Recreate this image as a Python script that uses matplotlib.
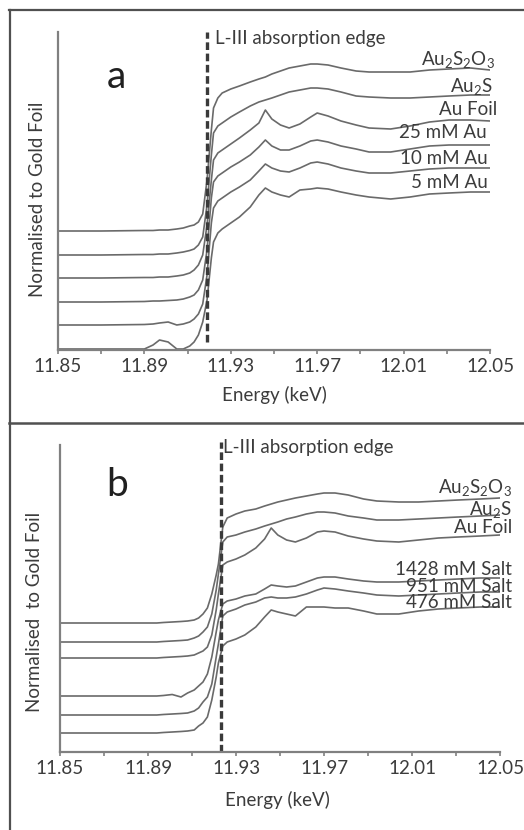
import matplotlib
matplotlib.use("Agg")
import matplotlib.pyplot as plt
from matplotlib.lines import Line2D

plt.rcParams['font.family'] = ['Lato', 'DejaVu Sans']
plt.rcParams['mathtext.fontset'] = 'custom'
plt.rcParams['mathtext.rm'] = 'Lato'
plt.rcParams['mathtext.it'] = 'Lato:italic'
plt.rcParams['mathtext.bf'] = 'Lato:bold'
plt.rcParams['lines.scale_dashes'] = False

# ---------------- data ----------------
energy = [11.850, 11.870, 11.890, 11.894, 11.897, 11.901, 11.905, 11.908, 11.911, 11.913,
          11.915, 11.917, 11.919, 11.921, 11.922, 11.924, 11.926, 11.930, 11.934, 11.939,
          11.943, 11.946, 11.949, 11.953, 11.957, 11.962, 11.967, 11.970, 11.975, 11.981,
          11.988, 11.994, 12.004, 12.013, 12.022, 12.031, 12.041, 12.050]

# panel a (stacked spectra, arbitrary units)
a_au2s2o3 = [1.19, 1.19, 1.195, 1.195, 1.20, 1.20, 1.21, 1.22, 1.24, 1.25,
             1.28, 1.36, 1.70, 2.20, 2.42, 2.52, 2.57, 2.61, 2.64, 2.68,
             2.71, 2.73, 2.76, 2.79, 2.82, 2.84, 2.86, 2.86, 2.85, 2.82,
             2.79, 2.78, 2.78, 2.78, 2.80, 2.81, 2.82, 2.80]
a_au2s = [0.95, 0.95, 0.955, 0.955, 0.96, 0.96, 0.97, 0.98, 0.995, 1.01,
          1.05, 1.13, 1.45, 1.95, 2.17, 2.24, 2.27, 2.33, 2.38, 2.44,
          2.48, 2.50, 2.52, 2.55, 2.58, 2.60, 2.62, 2.62, 2.61, 2.58,
          2.54, 2.53, 2.52, 2.52, 2.53, 2.54, 2.55, 2.55]
a_foil = [0.72, 0.72, 0.725, 0.725, 0.73, 0.73, 0.74, 0.75, 0.77, 0.80,
          0.85, 0.95, 1.25, 1.70, 1.90, 1.97, 2.00, 2.06, 2.12, 2.20,
          2.27, 2.40, 2.31, 2.25, 2.22, 2.26, 2.33, 2.37, 2.34, 2.29,
          2.25, 2.22, 2.21, 2.24, 2.28, 2.30, 2.30, 2.29]
a_25mM = [0.48, 0.48, 0.485, 0.49, 0.49, 0.495, 0.50, 0.51, 0.53, 0.55,
          0.60, 0.70, 1.00, 1.52, 1.68, 1.74, 1.77, 1.83, 1.88, 1.95,
          2.03, 2.10, 2.04, 2.00, 2.00, 2.04, 2.09, 2.10, 2.08, 2.04,
          2.01, 1.98, 1.98, 2.01, 2.04, 2.05, 2.05, 2.05]
a_10mM = [0.25, 0.25, 0.255, 0.26, 0.27, 0.28, 0.25, 0.26, 0.28, 0.31,
          0.36, 0.46, 0.75, 1.27, 1.42, 1.49, 1.52, 1.58, 1.63, 1.70,
          1.79, 1.86, 1.82, 1.79, 1.78, 1.82, 1.87, 1.88, 1.86, 1.82,
          1.79, 1.77, 1.77, 1.79, 1.81, 1.82, 1.82, 1.82]
a_5mM = [0.01, 0.01, 0.01, 0.05, 0.10, 0.08, 0.01, 0.01, 0.04, 0.08,
         0.15, 0.28, 0.50, 0.92, 1.08, 1.17, 1.21, 1.27, 1.33, 1.43,
         1.55, 1.62, 1.58, 1.55, 1.53, 1.60, 1.61, 1.62, 1.61, 1.58,
         1.55, 1.53, 1.51, 1.53, 1.56, 1.57, 1.58, 1.58]

# panel b
b_au2s2o3 = [1.29, 1.29, 1.29, 1.29, 1.295, 1.30, 1.305, 1.31, 1.32, 1.34,
             1.38, 1.44, 1.58, 1.77, 1.88, 2.25, 2.34, 2.38, 2.41, 2.43,
             2.46, 2.48, 2.50, 2.52, 2.54, 2.56, 2.58, 2.59, 2.59, 2.57,
             2.53, 2.51, 2.50, 2.50, 2.51, 2.52, 2.53, 2.54]
b_au2s = [1.10, 1.10, 1.10, 1.10, 1.105, 1.11, 1.115, 1.12, 1.14, 1.16,
          1.20, 1.25, 1.38, 1.62, 1.78, 2.10, 2.15, 2.17, 2.20, 2.23,
          2.26, 2.28, 2.30, 2.33, 2.35, 2.38, 2.40, 2.40, 2.39, 2.36,
          2.34, 2.32, 2.32, 2.33, 2.34, 2.35, 2.36, 2.37]
b_foil = [0.94, 0.94, 0.94, 0.94, 0.945, 0.95, 0.955, 0.96, 0.97, 0.99,
          1.01, 1.05, 1.17, 1.42, 1.58, 1.87, 1.90, 1.93, 1.97, 2.04,
          2.13, 2.24, 2.17, 2.12, 2.10, 2.14, 2.20, 2.21, 2.20, 2.16,
          2.13, 2.11, 2.10, 2.12, 2.14, 2.15, 2.16, 2.17]
b_1428 = [0.56, 0.56, 0.56, 0.56, 0.565, 0.575, 0.55, 0.59, 0.62, 0.66,
          0.70, 0.78, 0.95, 1.20, 1.32, 1.48, 1.51, 1.53, 1.56, 1.58,
          1.63, 1.67, 1.66, 1.65, 1.66, 1.70, 1.74, 1.75, 1.75, 1.73,
          1.71, 1.70, 1.70, 1.71, 1.72, 1.73, 1.74, 1.74]
b_951 = [0.37, 0.37, 0.37, 0.37, 0.375, 0.38, 0.385, 0.39, 0.41, 0.44,
         0.50, 0.55, 0.68, 0.95, 1.08, 1.36, 1.40, 1.43, 1.47, 1.50,
         1.54, 1.55, 1.54, 1.54, 1.55, 1.58, 1.62, 1.64, 1.63, 1.61,
         1.59, 1.57, 1.56, 1.57, 1.58, 1.59, 1.60, 1.60]
b_476 = [0.19, 0.19, 0.19, 0.19, 0.195, 0.20, 0.205, 0.21, 0.22, 0.26,
         0.29, 0.35, 0.52, 0.75, 0.89, 1.06, 1.10, 1.13, 1.17, 1.25,
         1.35, 1.42, 1.40, 1.38, 1.36, 1.45, 1.45, 1.45, 1.44, 1.44,
         1.41, 1.38, 1.38, 1.41, 1.43, 1.44, 1.45, 1.45]

labels_a = [r'$\mathrm{Au_2S_2O_3}$', r'$\mathrm{Au_2S}$', 'Au Foil',
            '25 mM Au', '10 mM Au', '5 mM Au']
labels_b = [r'$\mathrm{Au_2S_2O_3}$', r'$\mathrm{Au_2S}$', 'Au Foil',
            '1428 mM Salt', '951 mM Salt', '476 mM Salt']
series_a = [a_au2s2o3, a_au2s, a_foil, a_25mM, a_10mM, a_5mM]
series_b = [b_au2s2o3, b_au2s, b_foil, b_1428, b_951, b_476]
edge_a = 11.919
edge_b = 11.923
xticks_major = [11.85, 11.89, 11.93, 11.97, 12.01, 12.05]
xticks_minor = [11.87, 11.91, 11.95, 11.99, 12.03]

# ---------------- layout ----------------
W, H = 524, 830
fig = plt.figure(figsize=(W / 100, H / 100), dpi=100)

def px_axes(x0, x1, ytop, ybot):
    return fig.add_axes([x0 / W, 1 - ybot / H, (x1 - x0) / W, (ybot - ytop) / H])

TXT = '#3c3c3c'
CURVE = '#6a6a6a'
AXC = '#808080'
FS = 13.5

def setup(ax, ymax):
    ax.set_xlim(11.85, 12.05)
    ax.set_ylim(0, ymax)
    for s in ('top', 'right'):
        ax.spines[s].set_visible(False)
    for s in ('left', 'bottom'):
        ax.spines[s].set_color(AXC)
        ax.spines[s].set_linewidth(1.6)
    ax.set_yticks([])
    ax.set_xticks(xticks_major)
    ax.set_xticklabels([f'{v:.2f}' for v in xticks_major])
    ax.set_xticks(xticks_minor, minor=True)
    ax.tick_params(axis='x', which='both', direction='out', length=3, width=1.2,
                   color=AXC, labelsize=FS, labelcolor=TXT, pad=2.5)
    ax.patch.set_alpha(0)

# panel a
axa = px_axes(58, 490, 32, 350)
setup(axa, 3.18)
for y in series_a:
    axa.plot(energy, y, color=CURVE, lw=1.2, solid_joinstyle='round')
axa.plot([edge_a, edge_a], [0.08, 3.18], color='#3a3a3a', lw=2.4,
         linestyle=(0, (5.5, 2.6)), clip_on=False)
axa.text(11.9227, 3.12, 'L-III absorption edge', fontsize=FS, color=TXT,
         ha='left', va='center')
la_x = [12.0523, 12.0514, 12.0532, 12.0486, 12.049, 12.049]
la_y = [2.85, 2.58, 2.35, 2.12, 1.86, 1.62]
for t, x, y in zip(labels_a, la_x, la_y):
    axa.text(x, y, t, fontsize=FS, color=TXT, ha='right', va='baseline', clip_on=False)
axa.text(0.136, 0.86, 'a', transform=axa.transAxes, fontsize=28, color='#202020',
         ha='center', va='center')
axa.text(-0.0486, 0.475, 'Normalised to Gold Foil', transform=axa.transAxes,
         rotation=90, fontsize=FS, color=TXT, ha='center', va='center')
axa.text(0.502, -0.142, 'Energy (keV)', transform=axa.transAxes, fontsize=FS,
         color=TXT, ha='center', va='center')

# panel b
axb = px_axes(60, 500, 445, 752)
setup(axb, 3.07)
for y in series_b:
    axb.plot(energy, y, color=CURVE, lw=1.2, solid_joinstyle='round')
axb.plot([edge_b, edge_b], [0.0, 3.10], color='#3a3a3a', lw=2.4,
         linestyle=(0, (5.5, 2.6)), clip_on=False)
axb.text(11.924, 3.04, 'L-III absorption edge', fontsize=FS, color=TXT,
         ha='left', va='center')
lb_x = [12.0555] * 6
lb_y = [2.59, 2.37, 2.19, 1.77, 1.60, 1.44]
for t, x, y in zip(labels_b, lb_x, lb_y):
    axb.text(x, y, t, fontsize=FS, color=TXT, ha='right', va='baseline', clip_on=False)
axb.text(0.13, 0.87, 'b', transform=axb.transAxes, fontsize=28, color='#202020',
         ha='center', va='center')
axb.text(-0.057, 0.456, 'Normalised  to Gold Foil', transform=axb.transAxes,
         rotation=90, fontsize=FS, color=TXT, ha='center', va='center')
axb.text(0.495, -0.156, 'Energy (keV)', transform=axb.transAxes, fontsize=FS,
         color=TXT, ha='center', va='center')

# panel borders
BC = '#505050'
fig.add_artist(Line2D([9.5 / W, 9.5 / W], [0, 1 - 10 / H], color=BC, lw=1.6,
                      transform=fig.transFigure))
fig.add_artist(Line2D([9 / W, 1], [1 - 10.5 / H, 1 - 10.5 / H], color=BC, lw=1.6,
                      transform=fig.transFigure))
fig.add_artist(Line2D([9 / W, 1], [1 - 423 / H, 1 - 423 / H], color=BC, lw=1.8,
                      transform=fig.transFigure))

fig.savefig('out.png', dpi=100, facecolor='white')
